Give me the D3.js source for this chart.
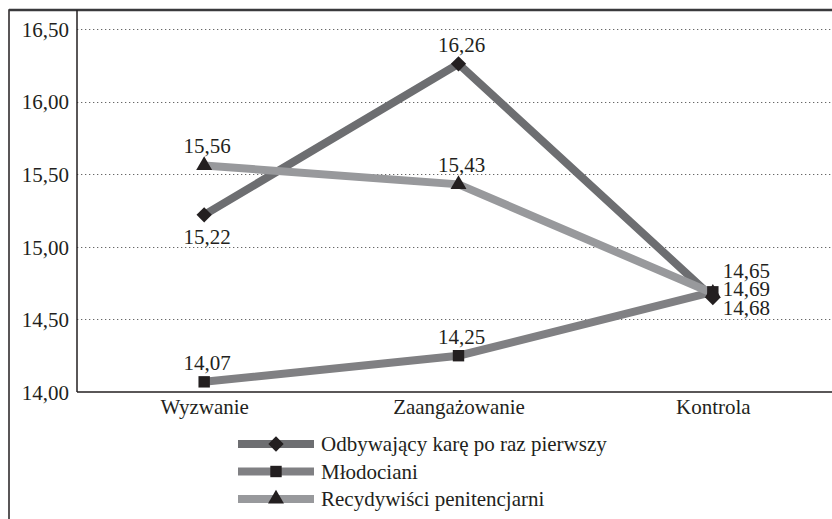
<!DOCTYPE html>
<html>
<head>
<meta charset="utf-8">
<script src="https://cdnjs.cloudflare.com/ajax/libs/d3/7.8.5/d3.min.js"></script>
<style>
  body { margin: 0; background: #fff; }
</style>
</head>
<body>
<div id="chart"></div>
<script>
"use strict";

// categories on the x axis
var categories = ["Wyzwanie", "Zaangażowanie", "Kontrola"];
// series names (legend)
var seriesNames = ["Odbywający karę po raz pierwszy", "Młodociani", "Recydywiści penitencjarni"];
// series values
var firstTimers = [15.22, 16.26, 14.65];
var juveniles = [14.07, 14.25, 14.69];
var recidivists = [15.56, 15.43, 14.68];
// y tick values
var yTicks = [14.0, 14.5, 15.0, 15.5, 16.0, 16.5];

var FONT = "\"Liberation Serif\"";

function lineChart()
{
    var w = 832, h = 519;
    var left = 77, right = 840, top = 10, bottom = 392;

    var svg = d3.select("#chart")
        .append("svg")
        .attr("width", w)
        .attr("height", h);

    // outer frame
    svg.append("rect")
        .attr("x", 9).attr("y", 10)
        .attr("width", 840).attr("height", 540)
        .attr("fill", "none")
        .attr("stroke", "#231f20")
        .attr("stroke-width", 1.5);
    svg.append("line")
        .attr("x1", 9).attr("x2", w).attr("y1", 10).attr("y2", 10)
        .attr("stroke", "#3a3a3c").attr("stroke-width", 2.5);

    var x = d3.scalePoint()
        .domain(categories)
        .range([left, right])
        .padding(0.5);

    var y = d3.scaleLinear()
        .domain([14, 16.5])
        .range([bottom, 29]);

    var fmt = function(v) { return d3.format(".2f")(v).replace(".", ","); };

    // dotted gridlines
    svg.append("g")
        .selectAll("line")
        .data(yTicks.filter(function(d) { return d > 14; }))
        .enter()
        .append("line")
        .attr("x1", left).attr("x2", w)
        .attr("y1", function(d) { return Math.round(y(d)) + 0.5; })
        .attr("y2", function(d) { return Math.round(y(d)) + 0.5; })
        .attr("stroke", "#666")
        .attr("stroke-width", 1)
        .attr("stroke-dasharray", "1.3,2.7");

    // y axis
    var yAxis = svg.append("g")
        .attr("transform", "translate(" + left + ",0)")
        .call(d3.axisLeft(y).tickValues(yTicks).tickSize(0).tickPadding(8).tickFormat(fmt));
    yAxis.select(".domain").remove();
    yAxis.attr("font-family", FONT);
    yAxis.selectAll("text")
        .style("font-family", FONT)
        .style("font-size", "21px")
        .attr("fill", "#231f20")
        .attr("dy", "0.35em");

    svg.append("line")
        .attr("x1", left).attr("x2", left).attr("y1", top).attr("y2", bottom)
        .attr("stroke", "#231f20").attr("stroke-width", 1.5);

    // x axis
    var xAxis = svg.append("g")
        .attr("transform", "translate(0," + bottom + ")")
        .call(d3.axisBottom(x).tickSize(0).tickPadding(7));
    xAxis.select(".domain").remove();
    xAxis.attr("font-family", FONT);
    xAxis.selectAll("text")
        .style("font-family", FONT)
        .style("font-size", "21px")
        .attr("fill", "#231f20");
    svg.append("line")
        .attr("x1", left).attr("x2", w).attr("y1", bottom).attr("y2", bottom)
        .attr("stroke", "#231f20").attr("stroke-width", 1.5);

    var series = [
        {name: seriesNames[0], values: firstTimers, color: "#6d6e71", symbol: d3.symbolDiamond2, size: 150},
        {name: seriesNames[1], values: juveniles, color: "#808083", symbol: d3.symbolSquare, size: 130},
        {name: seriesNames[2], values: recidivists, color: "#98999c", symbol: d3.symbolTriangle, size: 110}
    ];
    // where each value label sits relative to its point
    var labelPos = [["below", "above", "right0"], ["above", "above", "right1"], ["above", "above", "right2"]];

    var line = d3.line()
        .x(function(d, i) { return x(categories[i]); })
        .y(function(d) { return y(d); });

    // draw lines, last series on top
    [0, 1, 2].forEach(function(k) {
        svg.append("path")
            .datum(series[k].values)
            .attr("d", line)
            .attr("fill", "none")
            .attr("stroke", series[k].color)
            .attr("stroke-width", 8)
            .attr("stroke-linejoin", "miter");
    });

    // markers
    [2, 1, 0].forEach(function(k) {
        svg.append("g")
            .selectAll("path")
            .data(series[k].values)
            .enter()
            .append("path")
            .attr("d", d3.symbol().type(series[k].symbol).size(series[k].size))
            .attr("transform", function(d, i) {
                return "translate(" + x(categories[i]) + "," + y(d) + ")";
            })
            .attr("fill", "#231f20");
    });

    // value labels
    series.forEach(function(s, k) {
        svg.append("g")
            .selectAll("text")
            .data(s.values)
            .enter()
            .append("text")
            .style("font-family", FONT)
            .style("font-size", "21px")
            .attr("fill", "#231f20")
            .attr("text-anchor", function(d, i) { return labelPos[k][i].indexOf("right") === 0 ? "start" : "middle"; })
            .attr("x", function(d, i) {
                return labelPos[k][i].indexOf("right") === 0 ? x(categories[i]) + 10 : x(categories[i]) + 3;
            })
            .attr("y", function(d, i) {
                var p = labelPos[k][i];
                if (p === "above") return y(d) - 12;
                if (p === "below") return y(d) + 29;
                var row = +p.slice(5);
                return y(firstTimers[2]) - 20 + row * 18.5;
            })
            .text(function(d) { return fmt(d); });
    });

    // legend
    var legend = svg.selectAll(".legend")
        .data(series)
        .enter()
        .append("g")
        .attr("class", "legend")
        .attr("transform", function(d, i) { return "translate(238," + (444 + i * 27.5) + ")"; });

    legend.append("line")
        .attr("x1", 0).attr("x2", 76)
        .attr("stroke", function(d) { return d.color; })
        .attr("stroke-width", 8);

    legend.append("path")
        .attr("d", function(d) { return d3.symbol().type(d.symbol).size(d.size)(); })
        .attr("transform", "translate(38,0)")
        .attr("fill", "#231f20");

    legend.append("text")
        .attr("x", 83)
        .attr("y", 7)
        .style("font-family", FONT)
        .style("font-size", "21px")
        .attr("fill", "#231f20")
        .text(function(d) { return d.name; });
}

lineChart();
</script>
</body>
</html>
